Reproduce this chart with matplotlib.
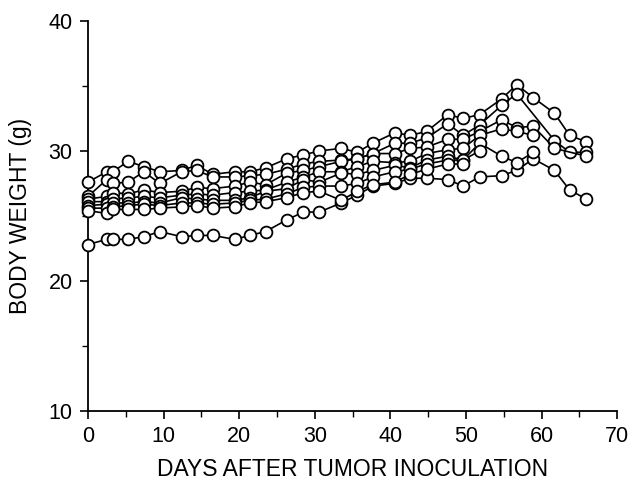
import numpy as np
import matplotlib
matplotlib.use("Agg")
import matplotlib.pyplot as plt
from matplotlib.ticker import MultipleLocator

nan = np.nan

# Days after tumor inoculation (common measuring days)
days = [0, 2.5, 3.3, 5.3, 7.4, 9.5, 12.4, 14.4, 16.5, 19.4, 21.4, 23.5, 26.3, 28.5, 30.6,
        33.5, 35.6, 37.7, 40.6, 42.6, 44.8, 47.6, 49.6, 51.8, 54.7, 56.7, 58.9, 61.7, 63.7, 65.9]

# Body weight (g) of each mouse, nan = not measured
mouse_a = [22.8, 23.2, 23.2, 23.2, 23.4, 23.8, 23.4, 23.5, 23.5, 23.2, 23.5, 23.8, 24.7, 25.3, 25.3,
           26.0, 26.6, 27.3, 27.5, 27.9, 27.9, 27.8, 27.3, 28.0, 28.1, 28.5, 29.4, 28.5, 27.0, 26.3]
mouse_b = [27.6, 28.4, 28.4, 29.2, 28.8, 28.4, 28.5, 28.9, 28.2, 28.4, 28.4, 28.7, 29.4, 29.7, 30.0,
           30.2, 29.9, 30.6, 31.4, 31.2, 31.5, 32.8, 32.5, 32.8, 34.0, 35.1, 34.1, 32.9, 31.2, 30.7]
mouse_c = [26.5, 27.8, 27.5, 27.6, 28.4, 27.5, 28.4, 28.5, 28.0, 28.0, 28.1, 28.2, 28.6, 29.0, 29.2,
           29.3, 29.4, 29.8, 30.6, 30.6, 31.0, 32.1, 31.2, 32.0, 33.5, 34.4, nan, 30.8, 29.9, 29.9]
mouse_d = [26.3, 26.5, 26.8, 26.7, 27.0, 26.8, 26.9, 27.2, 27.1, 27.3, 27.6, 27.4, 28.3, 28.5, 28.8,
           29.2, 29.4, 29.8, 29.8, 30.2, 30.3, 30.9, 30.9, 31.5, 32.4, 31.8, 31.9, 30.2, nan, 29.6]
mouse_e = [26.1, 26.1, 26.3, 26.4, 26.5, 26.4, 26.6, 26.7, 26.6, 26.8, 26.9, 27.0, 27.6, 28.0, 28.4,
           28.4, 28.8, 29.2, 29.1, 29.2, 29.8, 30.1, 30.2, 31.2, 31.7, 31.5, 31.2, nan, nan, nan]
mouse_f = [25.8, 25.9, 26.0, 26.0, 26.1, 26.0, 26.4, 26.3, 26.2, 26.2, 26.4, 26.9, 27.1, 27.8, 27.6,
           28.3, 28.2, 28.5, 28.9, 28.7, 29.3, 29.6, 29.3, 30.6, 29.6, 29.1, 29.9, nan, nan, nan]
mouse_g = [25.6, 25.6, 25.7, 25.8, 25.9, 25.8, 26.0, 26.0, 25.9, 26.0, 26.2, 26.3, 26.7, 27.2, 27.3,
           27.3, 27.5, 28.0, 28.4, 28.6, 29.0, 29.3, 29.3, 30.0, nan, nan, nan, nan, nan, nan]
mouse_h = [25.4, 25.2, 25.5, 25.5, 25.5, 25.6, 25.7, 25.8, 25.6, 25.7, 26.0, 26.1, 26.4, 26.8, 26.9,
           26.2, 26.9, 27.4, 27.6, 28.2, 28.6, 29.0, 29.0, nan, nan, nan, nan, nan, nan, nan]

mice = [mouse_a, mouse_b, mouse_c, mouse_d, mouse_e, mouse_f, mouse_g, mouse_h]

plt.rcParams['font.family'] = ['Liberation Sans', 'DejaVu Sans']

fig = plt.figure(figsize=(6.37, 4.88), dpi=100)
ax = fig.add_axes([0.138, 0.158, 0.831, 0.799])

x = np.array(days)
for w in mice:
    y = np.array(w, dtype=float)
    ok = ~np.isnan(y)
    ax.plot(x[ok], y[ok], color="black", linewidth=1.2, marker="o",
            markersize=8.5, markerfacecolor="white", markeredgecolor="black",
            markeredgewidth=1.3, clip_on=False, zorder=3)

ax.set_xlim(0, 70)
ax.set_ylim(10, 40)
ax.xaxis.set_major_locator(MultipleLocator(10))
ax.xaxis.set_minor_locator(MultipleLocator(5))
ax.yaxis.set_major_locator(MultipleLocator(10))
ax.yaxis.set_minor_locator(MultipleLocator(5))

for s in ["top", "right"]:
    ax.spines[s].set_visible(False)
for s in ["left", "bottom"]:
    ax.spines[s].set_linewidth(1.3)

ax.tick_params(which="major", direction="out", length=6, width=1.2, labelsize=15.5, pad=5)
ax.tick_params(which="minor", direction="out", length=4, width=1.0)

ax.set_xlabel("DAYS AFTER TUMOR INOCULATION", fontsize=16.5, labelpad=8)
ax.set_ylabel("BODY WEIGHT (g)", fontsize=16.5, labelpad=12)

fig.savefig("out.png", dpi=100)
